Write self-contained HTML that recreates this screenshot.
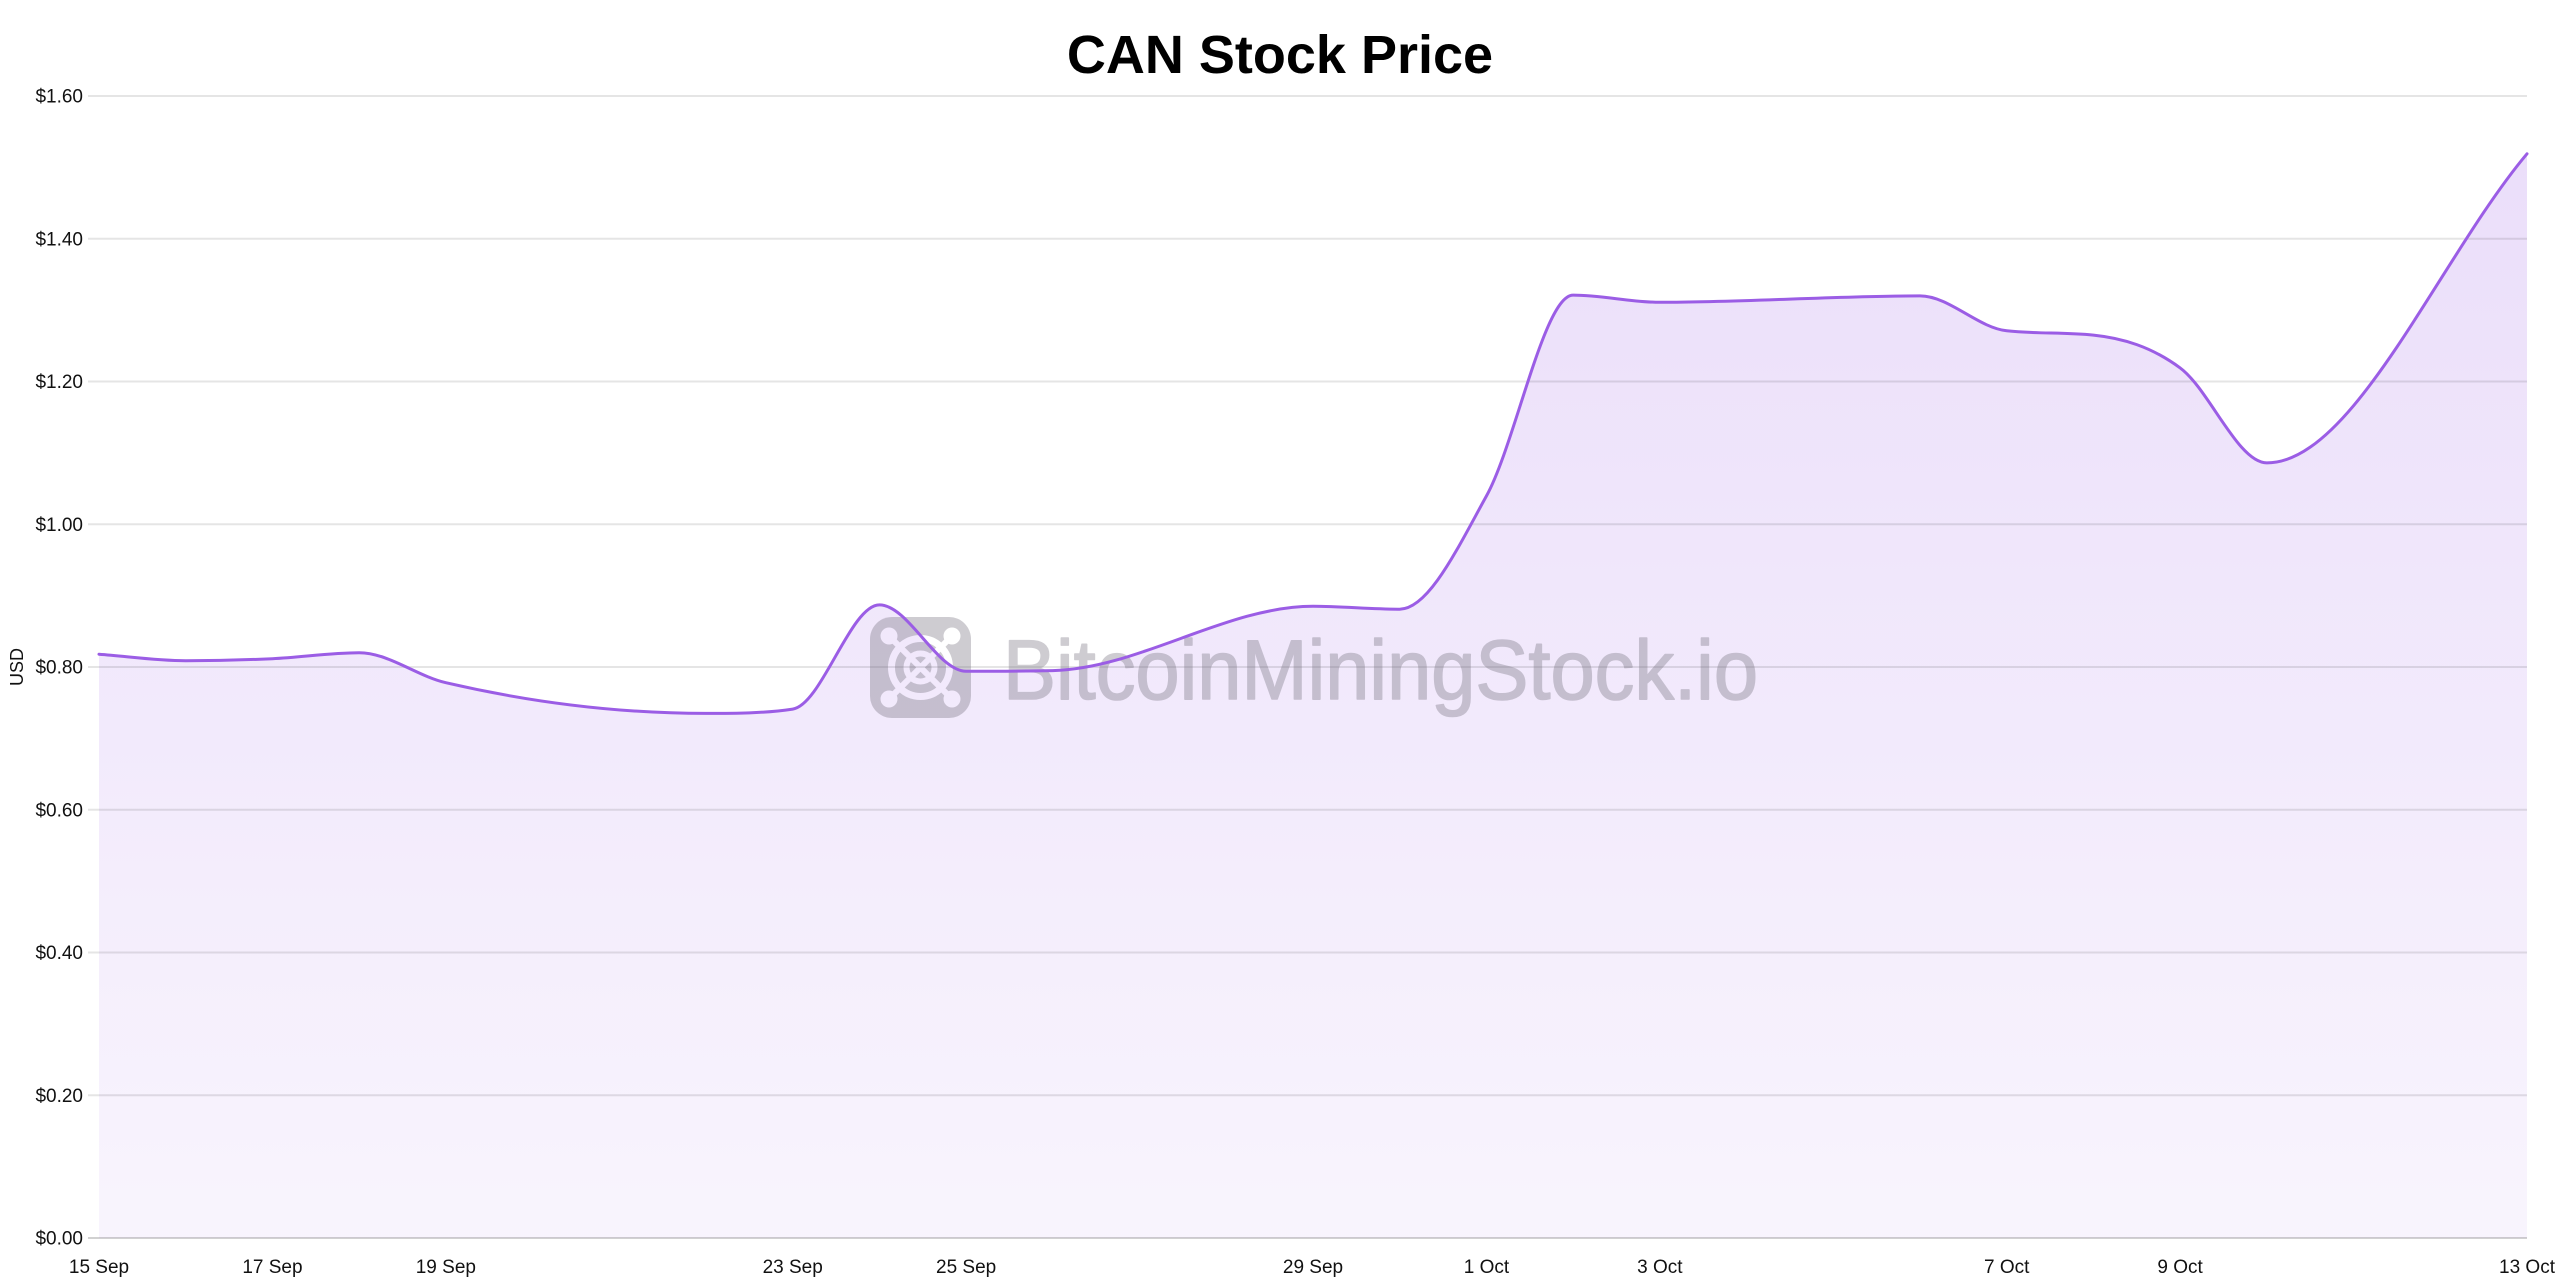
<!DOCTYPE html>
<html>
<head>
<meta charset="utf-8">
<style>
  html, body { margin: 0; padding: 0; background: #ffffff; }
  svg { display: block; }
  text { font-family: "Liberation Sans", Arial, Helvetica, sans-serif; }
</style>
</head>
<body>
<svg width="2560" height="1280" viewBox="0 0 2560 1280" xmlns="http://www.w3.org/2000/svg">
  <defs>
    <linearGradient id="fillGrad" gradientUnits="userSpaceOnUse" x1="0" y1="96" x2="0" y2="1238">
      <stop offset="0" stop-color="rgb(155,93,229)" stop-opacity="0.21"/>
      <stop offset="1" stop-color="rgb(155,93,229)" stop-opacity="0.065"/>
    </linearGradient>
    <mask id="logoMask" maskUnits="userSpaceOnUse" x="860" y="607" width="121" height="121">
      <rect x="860" y="607" width="121" height="121" fill="#fff"/>
      <g stroke="#000" fill="none" stroke-linecap="round">
        <circle cx="920.5" cy="667.5" r="29" stroke-width="7"/>
        <circle cx="920.5" cy="667.5" r="14" stroke-width="6"/>
        <line x1="889" y1="636" x2="952" y2="699" stroke-width="6"/>
        <line x1="952" y1="636" x2="889" y2="699" stroke-width="6"/>
      </g>
      <g fill="#000">
        <circle cx="889" cy="636" r="8.5"/>
        <circle cx="952" cy="636" r="8.5"/>
        <circle cx="889" cy="699" r="8.5"/>
        <circle cx="952" cy="699" r="8.5"/>
      </g>
    </mask>
  </defs>

  <!-- Title -->
  <text x="1280" y="73" text-anchor="middle" font-size="54" font-weight="bold" fill="#000">CAN Stock Price</text>

  <!-- Area fill -->
  <path fill="url(#fillGrad)" stroke="none" d="M99,654.2
    C127.90,656.37 156.81,660.7 185.71,660.7
    C214.62,660.7 243.52,660.03 272.43,658.7
    C301.33,657.37 330.24,652.7 359.14,652.7
    C388.05,652.7 416.95,675.99 445.86,682.7
    C532.57,702.82 619.29,713.4 706.0,713.4
    C734.9,713.4 763.81,713.4 792.71,709.1
    C821.62,704.8 850.52,604.9 879.43,604.9
    C908.33,604.9 937.24,671.3 966.14,671.3
    C995.05,671.3 1023.95,671.3 1052.86,670.6
    C1139.57,668.5 1226.29,606.3 1313.0,606.3
    C1341.9,606.3 1370.81,609.2 1399.71,609.2
    C1428.62,609.2 1457.52,548.35 1486.43,496
    C1515.33,443.65 1544.24,295.1 1573.14,295.1
    C1602.05,295.1 1630.95,302.3 1659.86,302.3
    C1746.57,302.3 1833.29,295.9 1920.0,295.9
    C1948.9,295.9 1977.81,327.68 2006.71,330.8
    C2035.62,333.92 2064.52,332.14 2093.43,335.1
    C2122.33,338.06 2151.24,346.6 2180.14,367.9
    C2209.05,389.2 2237.95,462.9 2266.86,462.9
    C2353.57,462.9 2440.29,256.83 2527,153.8
    L2527,1238 L99,1238 Z"/>

  <!-- Gridlines -->
  <g stroke="rgba(0,0,0,0.1)" stroke-width="2">
    <line x1="88" y1="96" x2="2527" y2="96"/>
    <line x1="88" y1="238.75" x2="2527" y2="238.75"/>
    <line x1="88" y1="381.5" x2="2527" y2="381.5"/>
    <line x1="88" y1="524.25" x2="2527" y2="524.25"/>
    <line x1="88" y1="667" x2="2527" y2="667"/>
    <line x1="88" y1="809.75" x2="2527" y2="809.75"/>
    <line x1="88" y1="952.5" x2="2527" y2="952.5"/>
    <line x1="88" y1="1095.25" x2="2527" y2="1095.25"/>
  </g>
  <line x1="88" y1="1238" x2="2527" y2="1238" stroke="rgba(0,0,0,0.18)" stroke-width="2"/>

  <!-- Watermark -->
  <g opacity="0.33">
    <rect x="870" y="617" width="101" height="101" rx="22" ry="22" fill="#6c6876" mask="url(#logoMask)"/>
    <text x="1003" y="699" font-size="84" fill="#6c6876" stroke="#6c6876" stroke-width="1.6" stroke-linejoin="round" textLength="755" lengthAdjust="spacingAndGlyphs">BitcoinMiningStock.io</text>
  </g>

  <!-- Line -->
  <path fill="none" stroke="#9b5de5" stroke-width="3" stroke-linejoin="round" stroke-linecap="round" d="M99,654.2
    C127.90,656.37 156.81,660.7 185.71,660.7
    C214.62,660.7 243.52,660.03 272.43,658.7
    C301.33,657.37 330.24,652.7 359.14,652.7
    C388.05,652.7 416.95,675.99 445.86,682.7
    C532.57,702.82 619.29,713.4 706.0,713.4
    C734.9,713.4 763.81,713.4 792.71,709.1
    C821.62,704.8 850.52,604.9 879.43,604.9
    C908.33,604.9 937.24,671.3 966.14,671.3
    C995.05,671.3 1023.95,671.3 1052.86,670.6
    C1139.57,668.5 1226.29,606.3 1313.0,606.3
    C1341.9,606.3 1370.81,609.2 1399.71,609.2
    C1428.62,609.2 1457.52,548.35 1486.43,496
    C1515.33,443.65 1544.24,295.1 1573.14,295.1
    C1602.05,295.1 1630.95,302.3 1659.86,302.3
    C1746.57,302.3 1833.29,295.9 1920.0,295.9
    C1948.9,295.9 1977.81,327.68 2006.71,330.8
    C2035.62,333.92 2064.52,332.14 2093.43,335.1
    C2122.33,338.06 2151.24,346.6 2180.14,367.9
    C2209.05,389.2 2237.95,462.9 2266.86,462.9
    C2353.57,462.9 2440.29,256.83 2527,153.8"/>

  <!-- Y axis labels -->
  <g font-size="19" fill="#111" text-anchor="end">
    <text x="83" y="102.5">$1.60</text>
    <text x="83" y="245.25">$1.40</text>
    <text x="83" y="388">$1.20</text>
    <text x="83" y="530.75">$1.00</text>
    <text x="83" y="673.5">$0.80</text>
    <text x="83" y="816.25">$0.60</text>
    <text x="83" y="959">$0.40</text>
    <text x="83" y="1101.75">$0.20</text>
    <text x="83" y="1244.5">$0.00</text>
  </g>

  <!-- Y axis title -->
  <text x="0" y="0" font-size="18" fill="#111" text-anchor="middle" transform="translate(23,667) rotate(-90)">USD</text>

  <!-- X axis labels -->
  <g font-size="19" fill="#111" text-anchor="middle">
    <text x="99" y="1273">15 Sep</text>
    <text x="272.43" y="1273">17 Sep</text>
    <text x="445.86" y="1273">19 Sep</text>
    <text x="792.71" y="1273">23 Sep</text>
    <text x="966.14" y="1273">25 Sep</text>
    <text x="1313" y="1273">29 Sep</text>
    <text x="1486.43" y="1273">1 Oct</text>
    <text x="1659.86" y="1273">3 Oct</text>
    <text x="2006.71" y="1273">7 Oct</text>
    <text x="2180.14" y="1273">9 Oct</text>
    <text x="2527" y="1273">13 Oct</text>
  </g>
</svg>
</body>
</html>
